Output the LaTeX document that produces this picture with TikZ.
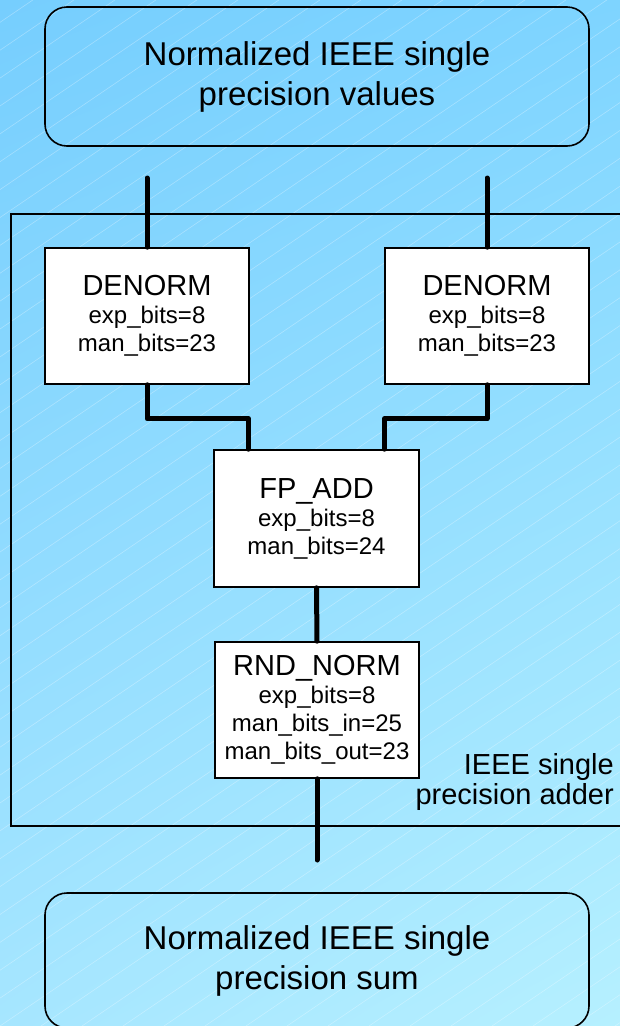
\documentclass[tikz,border=0pt]{standalone}
\usepackage{fontspec}
\setmainfont{Liberation Sans}
\usetikzlibrary{positioning, shadings}

\definecolor{bgUL}{RGB}{118,206,254}
\definecolor{bgUR}{RGB}{126,212,255}
\definecolor{bgLL}{RGB}{166,230,255}
\definecolor{bgLR}{RGB}{182,240,255}

\newcommand{\headfont}{\fontsize{29}{31}\selectfont}
\newcommand{\parfont}{\fontsize{24}{28}\selectfont}

\begin{document}
\begin{tikzpicture}[x=1pt, y=-1pt,
    unit/.style={draw, fill=white, line width=1.6pt, minimum width=204pt,
      minimum height=136pt, inner sep=0pt, align=center, font=\parfont},
    term/.style={draw, line width=1.6pt, rounded corners=22pt, minimum width=544pt,
      minimum height=139pt, inner sep=0pt, align=center,
      font=\fontsize{33}{40}\selectfont},
    wire/.style={line width=5pt, line cap=round, line join=round},
    hatch/.style={white, opacity=0.3, line width=0.6pt}]
  \useasboundingbox (0,0) rectangle (620,1026);

  % Background
  \shade[upper left=bgUL, upper right=bgUR, lower left=bgLL, lower right=bgLR]
    (0,0) rectangle (620,1026);
  \begin{scope}
    \clip (0,0) rectangle (620,1026);
    \foreach \i in {-38,...,16}
      \draw[hatch] (\i*41, 1026) -- ++(1600, -1088);
  \end{scope}

  % Input and output values
  \node[term] (vals) at (317,76.5) {Normalized IEEE single\\precision values};
  \node[term, minimum height=135pt] (sum) at (317,960.5) {Normalized IEEE single\\precision sum};

  % Adder boundary
  \draw[line width=1.6pt] (11,214) rectangle (640,826);
  \node[font=\fontsize{29}{30}\selectfont, align=right, anchor=east, inner sep=0pt] (adder)
    at (614,782) {IEEE single\\precision adder};

  % Units
  \node[unit] (denL) at (147,316) {{\headfont DENORM}\\exp\_bits=8\\man\_bits=23};
  \node[unit] (denR) at (487,316) {{\headfont DENORM}\\exp\_bits=8\\man\_bits=23};
  \node[unit, minimum width=205pt, minimum height=137pt] (fpadd) at (316.5,518.5)
    {{\headfont FP\_ADD}\\exp\_bits=8\\man\_bits=24};
  \node[unit] (rnd) at (317,710)
    {{\headfont RND\_NORM}\\exp\_bits=8\\man\_bits\_in=25\\man\_bits\_out=23};

  % Wires
  \coordinate (inL) at (147,178);
  \coordinate (inR) at (487,178);
  \coordinate (outS) at (317,860);
  \draw[wire] (inL) -- (denL.north);
  \draw[wire] (inR) -- (denR.north);
  \draw[wire] (denL.south) -- ++(0,34) -| ([xshift=-68pt]fpadd.north);
  \draw[wire] (denR.south) -- ++(0,34) -| ([xshift=68pt]fpadd.north);
  \draw[wire] (fpadd.south) -- (rnd.north);
  \draw[wire] (rnd.south) -- (outS);
\end{tikzpicture}
\end{document}
